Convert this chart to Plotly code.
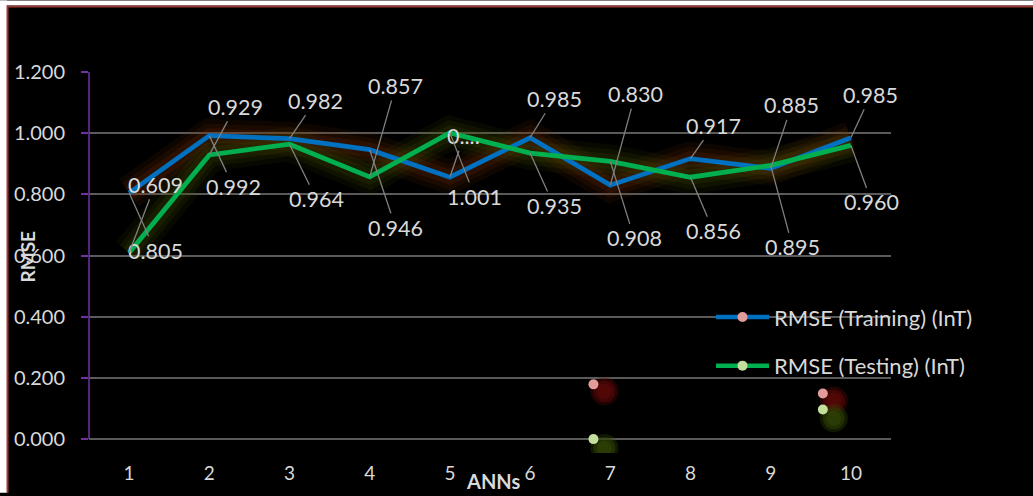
import plotly.graph_objects as go

# ---------------- data ----------------
anns = [1, 2, 3, 4, 5, 6, 7, 8, 9, 10]
tick_labels = ["1", "2", "3", "4", "5", "6", "7", "8", "9", "10"]
y_ticks = [0.0, 0.2, 0.4, 0.6, 0.8, 1.0, 1.2]
rmse_training = [0.805, 0.992, 0.982, 0.946, 0.856, 0.985, 0.830, 0.917, 0.885, 0.985]
rmse_testing = [0.609, 0.929, 0.964, 0.857, 1.001, 0.935, 0.908, 0.856, 0.895, 0.960]
training_label_override = {4: "0...."}   # truncated label in the original (index -> text)

# stray marker points visible in the picture (legend-like markers)
stray_x = [6.79, None, 9.65]
stray_training_y = [0.179, None, 0.149]
stray_testing_y = [0.0, None, 0.097]

series_names = ["RMSE (Training) (InT)", "RMSE (Testing) (InT)"]

# ---------------- layout geometry ----------------
W, H = 1033, 496
L, R, T, B0 = 89, 891, 72, 442          # B0: pixel row of y = 0
EXT = 14                                # plot area extends a little below y=0
B = B0 + EXT
PPU = (B0 - T) / 1.2                    # pixels per y unit
YMIN = -EXT / PPU


def px_x(px):
    return (px - L) / (R - L)


def px_y(py):
    return (B - py) / (B - T)


BLUE = "#0070c0"
GREEN = "#00b050"
PINK = "#e39c9a"
LGREEN = "#c4df9b"
TXT = "#d9d9d9"
FONT = "Lato"

fig = go.Figure()

# glow under lines
glow_specs = [(34, 0.10), (24, 0.14), (15, 0.18)]
for w, a in glow_specs:
    fig.add_trace(go.Scatter(x=anns, y=rmse_training, mode="lines",
                             line=dict(color=f"rgba(120,45,0,{a})", width=w),
                             showlegend=False, hoverinfo="skip"))
for w, a in glow_specs:
    fig.add_trace(go.Scatter(x=anns, y=rmse_testing, mode="lines",
                             line=dict(color=f"rgba(70,85,0,{a})", width=w),
                             showlegend=False, hoverinfo="skip"))

fig.add_trace(go.Scatter(x=anns, y=rmse_training, mode="lines",
                         line=dict(color=BLUE, width=4.8), showlegend=False, hoverinfo="skip"))
fig.add_trace(go.Scatter(x=anns, y=rmse_testing, mode="lines",
                         line=dict(color=GREEN, width=4.8), showlegend=False, hoverinfo="skip"))

# blurred shadows of the stray markers (offset down-right)
sdx = 11 / ((R - L) / 10.0)
for ys, col, sdy in [(stray_training_y, "rgba(95,8,8,", 7), (stray_testing_y, "rgba(50,68,5,", 9)]:
    sx = [None if v is None else v + sdx for v in stray_x]
    sy = [None if v is None else v - sdy / PPU for v in ys]
    for size, a in [(28, 0.35), (22, 0.5), (15, 0.6)]:
        fig.add_trace(go.Scatter(x=sx, y=sy, mode="markers",
                                 marker=dict(size=size, color=col + f"{a})", line=dict(width=0)),
                                 showlegend=False, hoverinfo="skip"))

# stray markers that also serve as the legend entries
fig.add_trace(go.Scatter(x=stray_x, y=stray_training_y, mode="lines+markers", name=series_names[0],
                         line=dict(color=BLUE, width=4.5),
                         marker=dict(color=PINK, size=10, line=dict(width=0)),
                         legendgroup="a", hoverinfo="skip"))
fig.add_trace(go.Scatter(x=stray_x, y=stray_testing_y, mode="lines+markers", name=series_names[1],
                         line=dict(color=GREEN, width=4.5),
                         marker=dict(color=LGREEN, size=10, line=dict(width=0)),
                         legendgroup="b", hoverinfo="skip"))

# data labels with leader lines (pixel offsets of label from point)
train_off = [(26, 58), (24, 51), (26, -38), (26, 78), (14, -41),
             (24, -39), (25, -91), (23, -33), (21, -63), (20, -43)]
test_off = [(26, -68), (26, -48), (27, 55), (26, -91), (25, 64),
            (24, 53), (24, 77), (23, 54), (22, 82), (21, 57)]

annotations = []
for vals, offs, over in [(rmse_training, train_off, training_label_override),
                         (rmse_testing, test_off, {})]:
    for i, (xv, yv) in enumerate(zip(anns, vals)):
        annotations.append(dict(
            x=xv, y=yv, xref="x", yref="y", ax=offs[i][0], ay=offs[i][1],
            text=over.get(i, f"{yv:.3f}"), showarrow=True, arrowhead=0,
            arrowwidth=1.3, arrowcolor="#808080", standoff=0, startstandoff=0,
            font=dict(family=FONT, size=21.5, color=TXT)))

annotations.append(dict(x=px_x(28), y=px_y(258), xref="paper", yref="paper", text="<b>RMSE</b>",
                        textangle=-90, showarrow=False, xanchor="center", yanchor="middle",
                        font=dict(family=FONT, size=19, color=TXT)))
annotations.append(dict(x=px_x(493), y=px_y(484), xref="paper", yref="paper", text="<b>ANNs</b>",
                        showarrow=False, xanchor="center", yanchor="middle",
                        font=dict(family=FONT, size=20, color=TXT)))

shapes = [
    dict(type="rect", xref="paper", yref="paper", x0=px_x(0), x1=px_x(7), y0=px_y(H), y1=px_y(0),
         fillcolor="white", line=dict(width=0), layer="below"),
    dict(type="rect", xref="paper", yref="paper", x0=px_x(0), x1=px_x(W), y0=px_y(5), y1=px_y(0),
         fillcolor="white", line=dict(width=0), layer="below"),
    dict(type="line", xref="paper", yref="paper", x0=px_x(7.5), x1=px_x(7.5), y0=px_y(H), y1=px_y(5),
         line=dict(color="#9b3b39", width=2), layer="below"),
    dict(type="line", xref="paper", yref="paper", x0=px_x(7), x1=px_x(W), y0=px_y(6), y1=px_y(6),
         line=dict(color="#9b3b39", width=2), layer="below"),
    # purple value-axis line from 0 to the top tick
    dict(type="line", xref="paper", yref="y", x0=0, x1=0, y0=y_ticks[0], y1=y_ticks[-1],
         line=dict(color="#7030a0", width=1.5), layer="above"),
]

fig.update_layout(
    width=W, height=H, autosize=False,
    margin=dict(l=L, r=W - R, t=T, b=H - B, pad=0),
    paper_bgcolor="#000000", plot_bgcolor="#000000",
    font=dict(family=FONT, color=TXT),
    showlegend=True,
    legend=dict(x=px_x(711), y=px_y(298), xanchor="left", yanchor="top",
                bgcolor="rgba(0,0,0,0)", font=dict(family=FONT, size=22, color=TXT),
                tracegroupgap=17, itemwidth=53),
    xaxis=dict(range=[0.5, 10.5], tickvals=anns, ticktext=tick_labels, showgrid=False,
               zeroline=False, showline=False, ticks="", ticklabelstandoff=7,
               tickfont=dict(family=FONT, size=19, color=TXT)),
    yaxis=dict(range=[YMIN, 1.2], tickvals=y_ticks, tickformat=".3f", showgrid=True,
               gridcolor="#5a5a5a", gridwidth=1.5, zeroline=False, showline=False,
               ticks="outside", ticklen=7, tickcolor="#7030a0", tickwidth=1.5,
               ticklabelstandoff=12,
               tickfont=dict(family=FONT, size=20, color=TXT)),
    annotations=annotations, shapes=shapes,
)

fig.write_html("out.html", config={"displayModeBar": False},
               post_script="document.body.style.margin='0';document.body.style.overflow='hidden';")
